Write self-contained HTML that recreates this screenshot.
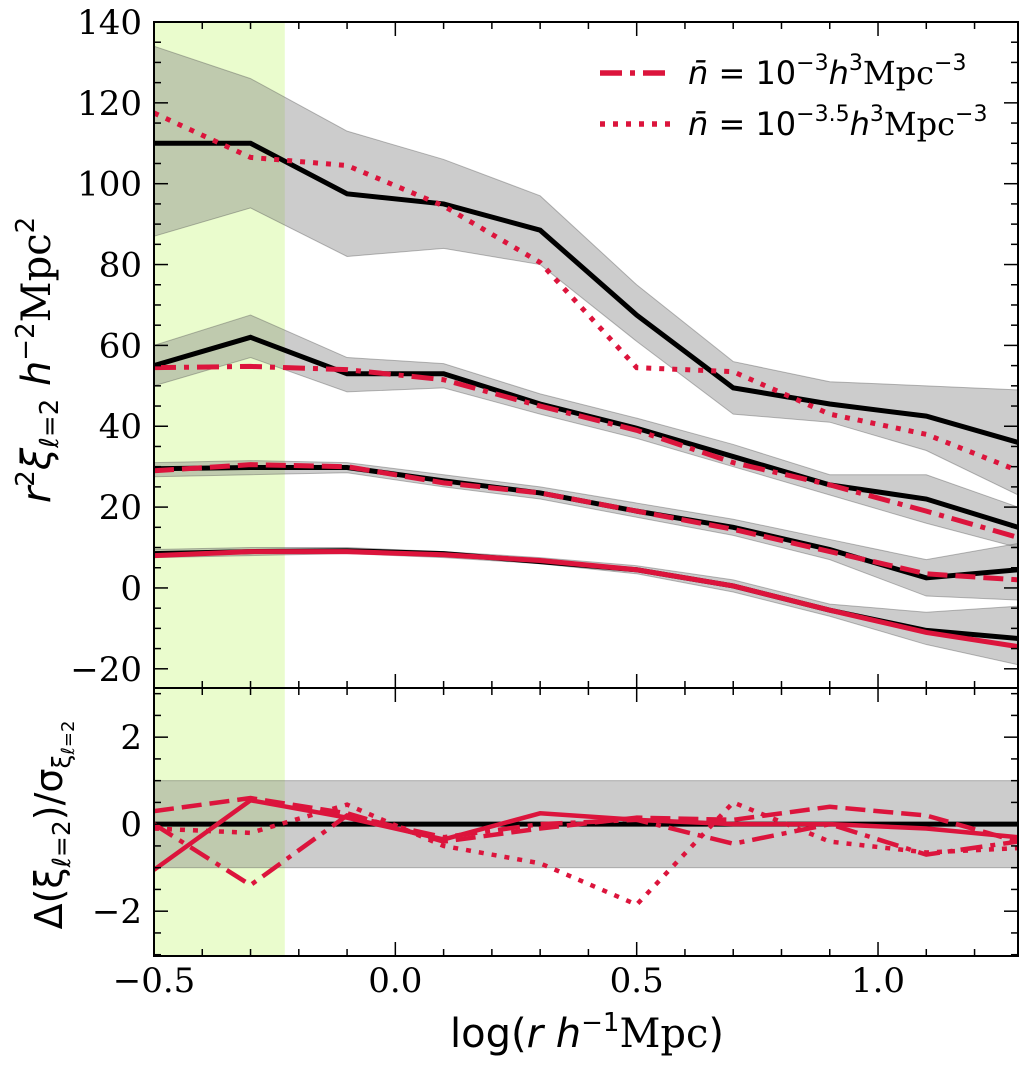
<!DOCTYPE html>
<html><head><meta charset="utf-8">
<style>
html,body{margin:0;padding:0;background:#fff;}
body{position:relative;width:1025px;height:1069px;}
svg{display:block;font-family:"DejaVu Serif","Liberation Serif",serif;}
</style></head>
<body>
<svg id="chart" width="1025" height="1069" viewBox="0 0 1025 1069" xmlns="http://www.w3.org/2000/svg">
<g id="topPanel"></g>
<g id="botPanel"></g>
<g id="labels"></g>
</svg>
<script>
const xs = [-0.5,-0.3,-0.1,0.1,0.3,0.5,0.7,0.9,1.1,1.29];
const aBlack=[110,110,97.5,95,88.5,67.5,49.5,45.5,42.5,36];
const aHi=[134,126,113,106,97,75,56,51,50,49];
const aLo=[87,94,82,84,80,61,43,41,34,23];
const aRed=[117.5,106.5,104.5,94.5,80.5,54.5,53.5,43,38,29];
const bBlack=[55,62,53,53,45.5,39.5,32.5,25.5,22,15];
const bHi=[60,67.5,57,55.5,48,42,35.5,28,28,20];
const bLo=[50,57,48.5,49.5,43,37,30,23,16,10];
const bRed=[54.5,54.8,54,51.5,45,39,31,25.5,19,12.5];
const cBlack=[29.5,29.8,29.8,26.5,23.5,19,15,9.5,2.5,4.5];
const cHi=[31,31.5,31,28,25,21,17,12,7,11];
const cLo=[27.5,28,28.5,25,22,17.5,13,7,-2,-3];
const cRed=[29,30.5,30,26,23.5,19,14.5,9,3.5,2];
const dBlack=[8.5,9,9.2,8.5,6.5,4.5,0.5,-5.5,-10.5,-12.5];
const dHi=[9.5,10,10,9,7.5,5.5,2,-4,-6,-4.5];
const dLo=[7.5,8,8.5,7.5,6,3.5,-1,-7,-14,-19];
const dRed=[8,9,9,8.2,6.8,4.5,0.5,-5.5,-11,-14.5];
const rSolid=[-1.05,0.55,0.15,-0.35,0.25,0.1,0,0,-0.1,-0.3];
const rDash=[0.3,0.6,0.25,-0.4,-0.1,0.15,0.1,0.4,0.2,-0.4];
const rDashDot=[0,-1.4,0.2,-0.3,0,0.1,-0.45,0.0,-0.7,-0.4];
const rDot=[-0.1,-0.2,0.45,-0.5,-0.9,-1.85,0.5,-0.4,-0.65,-0.55];
const xTicks=[-0.5,0.0,0.5,1.0];
const xTickLabels=["\u22120.5","0.0","0.5","1.0"];
const yTopTicks=[-20,0,20,40,60,80,100,120,140];
const yBotTicks=[-2,0,2];

const NS="http://www.w3.org/2000/svg";
const L=154,R=1018,T=22,M=688,B=956;
const X0=-0.5,X1=1.29,YT0=-24.75,YT1=140,YB0=-3.03,YB1=3.13;
const sx=v=>L+(v-X0)/(X1-X0)*(R-L);
const syT=v=>M-(v-YT0)/(YT1-YT0)*(M-T);
const syB=v=>B-(v-YB0)/(YB1-YB0)*(B-M);
function mk(tag,attrs,parent){const e=document.createElementNS(NS,tag);for(const k in attrs)e.setAttribute(k,attrs[k]);parent.appendChild(e);return e;}
const topPanel=document.getElementById('topPanel'),botPanel=document.getElementById('botPanel'),lab=document.getElementById('labels');

const defs=mk('defs',{},document.getElementById('chart'));
const c1=mk('clipPath',{id:'ct'},defs);mk('rect',{x:L,y:T,width:R-L,height:M-T},c1);
const c2=mk('clipPath',{id:'cb'},defs);mk('rect',{x:L,y:M,width:R-L,height:B-M},c2);
const gT=mk('g',{'clip-path':'url(#ct)'},topPanel);
const gB=mk('g',{'clip-path':'url(#cb)'},botPanel);

let e=mk('rect',{x:sx(-0.5),y:T,width:sx(-0.229)-sx(-0.5),height:M-T,fill:'#e6fbc4',opacity:0.85},gT);


e=mk('rect',{x:sx(-0.5),y:M,width:sx(-0.229)-sx(-0.5),height:B-M,fill:'#e6fbc4',opacity:0.85},gB);



function band(hi,lo,name,g,sy){
  let d='M'+xs.map((x,i)=>sx(x)+','+sy(hi[i])).join('L')+'L'+xs.map((x,i)=>sx(x)+','+sy(lo[i])).reverse().join('L')+'Z';
  const p=mk('path',{d:d,fill:'#808080','fill-opacity':0.4,stroke:'#555','stroke-opacity':0.4,'stroke-width':1},g);
  
  
}
function line(vals,name,g,sy,color,dash,w){
  const p=mk('path',{d:'M'+xs.map((x,i)=>sx(x)+','+sy(vals[i])).join('L'),fill:'none',stroke:color,'stroke-width':w||5,'stroke-dasharray':dash||'none'},g);
  
  
}
const RED='#dc143c';
band(aHi,aLo,'error-band-a',gT,syT);band(bHi,bLo,'error-band-b',gT,syT);band(cHi,cLo,'error-band-c',gT,syT);band(dHi,dLo,'error-band-d',gT,syT);
line(aBlack,'reference-line-a',gT,syT,'#000');line(bBlack,'reference-line-b',gT,syT,'#000');
line(cBlack,'reference-line-c',gT,syT,'#000');line(dBlack,'reference-line-d',gT,syT,'#000');
line(aRed,'model-dotted',gT,syT,RED,'5 8');
line(bRed,'model-dashdot',gT,syT,RED,'22 8 5 8');
line(cRed,'model-dashed',gT,syT,RED,'20 8');
line(dRed,'model-solid',gT,syT,RED,null);

e=mk('rect',{x:L,y:syB(1),width:R-L,height:syB(-1)-syB(1),fill:'#808080','fill-opacity':0.4,stroke:'#555','stroke-opacity':0.4},gB);


e=mk('line',{x1:L,x2:R,y1:syB(0),y2:syB(0),stroke:'#000','stroke-width':5},gB);


line(rSolid,'residual-solid',gB,syB,RED,null,4.5);
line(rDash,'residual-dashed',gB,syB,RED,'20 8',4.5);
line(rDashDot,'residual-dashdot',gB,syB,RED,'22 8 5 8',4.5);
line(rDot,'residual-dotted',gB,syB,RED,'5 8',4.5);

for(const [y1,y2,n] of [[T,M,'top-frame'],[M,B,'bottom-frame']]){
  e=mk('rect',{x:L,y:y1,width:R-L,height:y2-y1,fill:'none',stroke:'#000','stroke-width':2},lab);
  
  
}
for(let k=-5;k<=12;k++){
  const v=k/10, px=sx(v), major=(k%5===0), len=major?14:7;
  for(const [y1,y2] of [[T,M],[M,B]]){
    mk('line',{x1:px,x2:px,y1:y2,y2:y2-len,stroke:'#000','stroke-width':1.5},lab);
    mk('line',{x1:px,x2:px,y1:y1,y2:y1+len,stroke:'#000','stroke-width':1.5},lab);
  }
}
xTicks.forEach((v,i)=>{const t=mk('text',{x:sx(v),y:992,'font-size':34,'text-anchor':'middle'},lab);t.textContent=xTickLabels[i];

});
for(let v=-20;v<=140;v+=5){const py=syT(v),len=(v%20===0)?14:7;
  mk('line',{x1:L,x2:L+len,y1:py,y2:py,stroke:'#000','stroke-width':1.5},lab);
  mk('line',{x1:R,x2:R-len,y1:py,y2:py,stroke:'#000','stroke-width':1.5},lab);}
yTopTicks.forEach(v=>{const t=mk('text',{x:142,y:syT(v)+12,'font-size':34,'text-anchor':'end'},lab);t.textContent=v<0?'\u2212'+(-v):String(v);

});
for(let v=-3;v<=3;v+=0.5){const py=syB(v),len=(v%2===0)?14:7;
  mk('line',{x1:L,x2:L+len,y1:py,y2:py,stroke:'#000','stroke-width':1.5},lab);
  mk('line',{x1:R,x2:R-len,y1:py,y2:py,stroke:'#000','stroke-width':1.5},lab);}
yBotTicks.forEach(v=>{const t=mk('text',{x:142,y:syB(v)+12,'font-size':34,'text-anchor':'end'},lab);t.textContent=v<0?'\u2212'+(-v):String(v);

});
</script>
<svg style="position:absolute;left:0;top:0" width="1025" height="1069">
<text x="587" y="1047" font-size="40" text-anchor="middle" font-family="DejaVu Sans, sans-serif">log(<tspan font-style="italic">r</tspan> <tspan font-style="italic">h</tspan><tspan font-size="26" dy="-16">−1</tspan><tspan dy="16" font-family="DejaVu Serif, serif">Mpc</tspan>)</text>
<text transform="translate(50,360) rotate(-90)" font-size="40" text-anchor="middle" font-family="DejaVu Sans, sans-serif"><tspan font-style="italic">r</tspan><tspan font-size="26" dy="-16">2</tspan><tspan dy="16" font-style="italic">ξ</tspan><tspan font-size="26" dy="8" font-style="italic">ℓ</tspan><tspan font-size="26">=2</tspan><tspan dy="-8"> </tspan><tspan font-style="italic">h</tspan><tspan font-size="26" dy="-16">−2</tspan><tspan dy="16" font-family="DejaVu Serif, serif">Mpc</tspan><tspan font-size="26" dy="-16">2</tspan></text>
<text transform="translate(62,825) rotate(-90)" font-size="38" text-anchor="middle" font-family="DejaVu Sans, sans-serif">Δ(ξ<tspan font-size="25" dy="8" font-style="italic">ℓ</tspan><tspan font-size="25">=2</tspan><tspan dy="-8">)/σ</tspan><tspan font-size="25" dy="8">ξ</tspan><tspan font-size="18" dy="4" font-style="italic">ℓ</tspan><tspan font-size="18">=2</tspan></text>
<g>
<line x1="600" x2="672" y1="73" y2="73" stroke="#dc143c" stroke-width="5.5" stroke-dasharray="22 8 5 8"/>
<text x="688" y="84" font-size="32" font-family="DejaVu Sans, sans-serif"><tspan font-style="italic">n̄</tspan> = 10<tspan font-size="22" dy="-14">−3</tspan><tspan dy="14" font-style="italic">h</tspan><tspan font-size="22" dy="-14">3</tspan><tspan dy="14" font-family="DejaVu Serif, serif">Mpc</tspan><tspan font-size="22" dy="-14">−3</tspan></text>
<line x1="600" x2="672" y1="124" y2="124" stroke="#dc143c" stroke-width="5.5" stroke-dasharray="5 8"/>
<text x="688" y="135" font-size="32" font-family="DejaVu Sans, sans-serif"><tspan font-style="italic">n̄</tspan> = 10<tspan font-size="22" dy="-14">−3.5</tspan><tspan dy="14" font-style="italic">h</tspan><tspan font-size="22" dy="-14">3</tspan><tspan dy="14" font-family="DejaVu Serif, serif">Mpc</tspan><tspan font-size="22" dy="-14">−3</tspan></text>
</g>
</svg>
</body></html>
